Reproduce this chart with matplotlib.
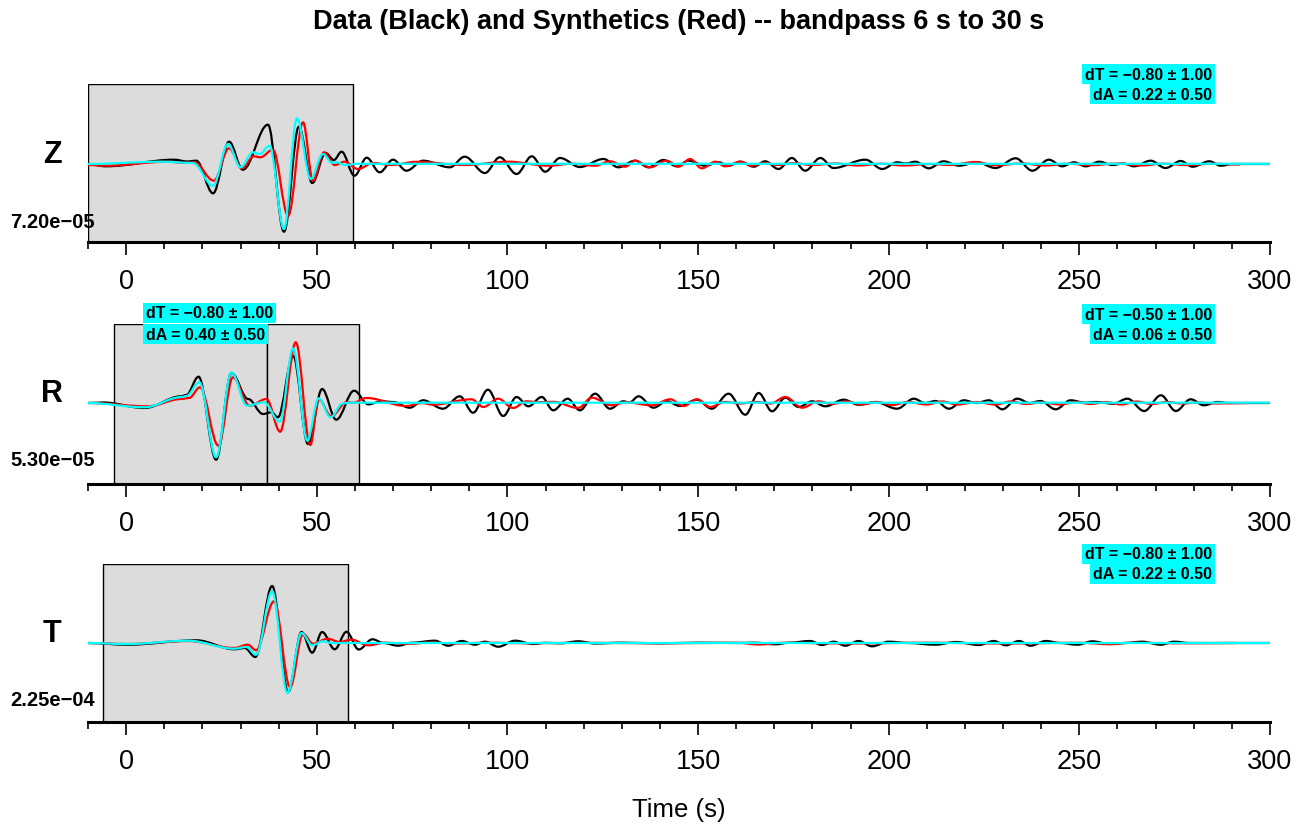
import matplotlib
matplotlib.use("Agg")
import matplotlib.pyplot as plt
from matplotlib.path import Path
from matplotlib.patches import PathPatch, Rectangle
from matplotlib.ticker import MultipleLocator

plt.rcParams['font.family'] = ['Liberation Sans', 'DejaVu Sans']

# ---------------- data: extrema (time s, relative amplitude) ----------------
z_black_t = [-10, -5.3, 12.6, 16, 18.4, 22.8, 27.0, 30.6, 37.2, 41.4, 45.3, 48.8, 52.3, 54.5, 56.5, 59.9,
             63.1, 66.5, 70.0, 73.5, 77.9, 84.9, 88.8, 94.1, 98.0, 102.4, 106.4, 109.9, 113.8, 119.0, 125.2,
             129.1, 133.5, 137.0, 140.9, 144.4, 147.5, 151.9, 155.4, 158.0, 161.1, 164.6, 167.6, 171.1,
             174.6, 178.1, 182.1, 185.5, 193.9, 198.3, 202.2, 204.5, 207.0, 210.5, 214.4, 218.4, 223.2,
             228.0, 233.3, 237.7, 242.0, 245.5, 248.6, 251.7, 255.2, 258.7, 261.5, 264.4, 268.7, 272.6,
             276.6, 279.7, 284.1, 287.1, 290.2, 300]
z_black_a = [0, -2.3, 4.3, 2.5, 3.3, -29.3, 22.3, -5.7, 39.3, -67.7, 37.3, -19, 11, 4, 12.3, -11.7,
             6.3, -8.3, 4.3, -6.7, 3.3, -3.3, 7.3, -9, 6.7, -10, 7.7, -7.7, 6, -3, 5,
             -3.3, 3.3, -3.3, 4, -2.3, 3.3, -1.7, 1.7, -1.7, 2.3, -2.7, 2.7, -5,
             6, -6.7, 6, -4, 4.3, -5, 1.7, 0.5, 2.3, -4.3, 2.7, -1.7, 1.7,
             -4, 5.7, -6.7, 4.3, -2.3, 1.7, -2.3, 2.3, -1, 0.5, -2.3, 3.3, -4,
             3, -2.7, 2.7, -1.7, 0, 0]

z_red_t = [-10, -5.3, 10.9, 15, 17.9, 23.0, 27.0, 30.4, 33.5, 35.2, 38.5, 42.5, 46.4, 49.0, 51.9, 54.7,
           57.3, 60.8, 64.8, 69.6, 76, 88.8, 100.2, 110.7, 117, 123.0, 126.9, 130.9, 133.5, 137.4, 141.8,
           144.9, 147.9, 151.0, 154.5, 157.1, 161.1, 164.1, 167.5, 171, 175, 180, 186, 192, 198, 204,
           211, 216, 222.7, 228, 235, 241, 247, 253, 260, 266, 272, 278, 285, 292]
z_red_a = [-1, -1.7, 2.3, 1.2, 1.7, -16.7, 15.7, -4.3, 7.7, 6.7, 14.3, -51.7, 41.7, -16.7, 11.7, -1,
           2.3, -5, 1, -1, 2.2, -1, 2.3, -1.7, 0.3, -1.7, 2.7, -2.7, 3.3, -3.3, 3.3,
           -2.7, 5, -4.3, 2.3, -2.3, 2.3, -1.7, 1, -1, 0.8, -1, 0.5, -1.5, 0.3, -1.5,
           0, -1, 2.0, -1.2, 0.5, -1.5, 0.3, -1.2, 0.5, -1.5, 0.3, -1.0, 0.2, -0.5]

z_cyan_t = [-10, 9.2, 17.5, 22.8, 26.7, 30.0, 33.3, 35, 37.6, 41.4, 44.8, 48.4, 51.6, 54.0, 55.3, 57.3,
            61, 300]
z_cyan_a = [0, 2.3, 1, -21.7, 20, -3.3, 11.7, 10, 18.3, -65, 45.7, -15, 10, 1.2, 1.8, -1,
            0.2, 0.2]

r_black_t = [-10, -6, 4.8, 14.4, 15.8, 19.0, 23.6, 27.6, 32.0, 35.9, 38.1, 39.8, 43.8, 47.7, 51.4, 55.1,
             59.8, 63.5, 67, 70, 74.4, 77.9, 83.1, 87.5, 91.0, 94.9, 98.9, 102.4, 105.5, 109.0, 112.0,
             115.8, 119.0, 123.0, 126.9, 130.4, 132, 134.4, 138.3, 141.8, 145.3, 149.7, 153.6, 158.0,
             162.4, 165.9, 169.4, 172.9, 176.4, 179.9, 183.4, 188.2, 192.1, 196.5, 202.2, 206.6, 209.5,
             212.3, 215.8, 219.7, 223, 226.3, 229.8, 233.7, 237, 239.8, 243.8, 247.7, 251.5, 254.6,
             258.9, 262.6, 267.0, 271.4, 275.3, 279.2, 282.7, 286.2, 289, 300]
r_black_a = [0, 0.5, -5, 6.7, 8, 26.3, -56.7, 30, 4, -11, -9.3, -14.3, 47.3, -41, 14, -16.7,
             12.3, -1.3, 1.7, 1, -4.7, 2.7, -5.7, 6.7, -9.7, 13.3, -13, 6, -3.3, 6, -7.3,
             4.3, -7.3, 9.3, -5.7, 1.7, 0.5, 6.7, -4.7, 1.7, -3, 3.3, -5.7, 9.3,
             -11.7, 10, -8.3, 5.3, -4, 1.7, -3.3, 3.3, -1.7, 1, -5.7, 4.3, 0,
             2, -5.7, 2.7, 0, 2.7, -6.3, 4.3, 0, 2, -6.3, 2.7, 0.3, 1,
             -0.7, 4.3, -8, 7.7, -8, 3.7, -2.3, 1, 0, 0]

r_red_t = [-10, 5.7, 14.4, 16.5, 19.4, 24.2, 28.0, 32.4, 36.8, 40.4, 44.5, 48.3, 50.5, 53.8, 57.8,
           59.5, 63.0, 73.5, 77.5, 80.5, 90.6, 93.7, 97.6, 101.5, 105.0, 108, 112, 118.6, 122.1, 127.4,
           131, 137.9, 142.7, 146.2, 149.7, 153.2, 157, 161, 165, 169, 172.9, 177.3, 181.6, 185, 189,
           193, 197, 201, 205, 210, 214, 218, 223, 228, 232, 236, 240, 245, 249, 253, 257, 261, 265,
           269, 273, 277, 281, 286, 294.6]
r_red_a = [0, -3.3, 4, 5, 15.7, -42.7, 25.7, -2.7, 4, -28.7, 60.7, -42, 4, -13.3, 0.8,
           0.2, 5, -3, 0, -1.7, 3.7, -4, 4.3, -5, 1.7, 0.8, 1.2, -5, 5.3, -2.3,
           0.8, -2.3, 3.7, -3, 3.7, -4, 1, -0.5, 1, -0.5, 6, -4.7, 1.7, -1, 1.5,
           -1.5, 1, -2, 1, -1.5, 1.5, -1.5, 1, -1.5, 1.5, -1, 0.5, -1.5, 1, -1, 1, -1.5, 1.5,
           -1, 1, -0.5, 0.5, -0.5, 0]

r_cyan_t = [-10, 4.8, 14.6, 15.8, 19.2, 23.6, 27.6, 31.7, 36.1, 40.3, 43.8, 47.5, 50.5, 53.6, 56.8,
            58.5, 300]
r_cyan_a = [0, -4.3, 6, 7, 20.7, -54.3, 30.7, -2.7, 0.7, -18.7, 54.7, -37.7, 4.7, -14.3, -0.5,
            0.3, 0.3]

t_black_t = [-10, 0.4, 18.4, 28.4, 31.1, 33.9, 38.3, 42.5, 46.0, 48.8, 51.4, 54.7, 57.8, 61.0, 64.6,
             67.5, 71.3, 75, 81.0, 84.5, 88.0, 91.5, 94.1, 97.6, 102.0, 106.8, 110, 114, 118.6, 123,
             130, 140, 150, 160, 165, 170.2, 174, 179.4, 182.5, 185.6, 188.6, 192.1, 195.6, 200.0,
             205, 212.3, 217.6, 223.7, 227.6, 230.7, 234.2, 237.2, 241.2, 245, 249.5, 253.4, 257.8,
             262, 266.5, 271.4, 274.8, 279, 300]
t_black_a = [0, -1.7, 2.7, -6.3, -5, -14, 57, -49, 11, -9.7, 11, -6.3, 11.2, -6.5, 3.7,
             0, -2.7, 0.3, 2.3, -2.7, 2, -1.7, 1.3, -3.7, 2.3, -1, 0.2, -0.3, 1.7, -0.5,
             0.3, -0.3, 0.3, 0, 0.3, -1.3, 0.3, 2, -2, 1.3, -2.7, 2, -3.3, 1.3,
             0, -1.7, 1, -2, 2, -2.3, 2, -2.7, 2, 0, -1.7, 1.7, -1,
             0, 1.3, -1.7, 1.3, 0, 0]

t_red_t = [-10, 0.4, 16.2, 28.4, 31.9, 34.1, 38.8, 43.0, 46.4, 49.0, 52.9, 56, 59.1, 63.5, 68, 74,
           80, 86, 95, 105, 120, 140, 160, 166, 172, 190, 210, 230, 250, 258, 264, 275, 291]
t_red_a = [0, -1, 2, -5, -1.7, -7.3, 41.7, -44, 9.3, -0.7, 4.3, 1, 3.3, -2.3, 0.3, -0.8,
           0.5, -0.5, 0.3, -0.3, 0.2, -0.3, 0.2, -1.5, 0.2, -0.5, 0.3, -0.5, 0.2, -1.2, 0.3, -0.3, 0]

t_cyan_t = [-10, 0.4, 16.2, 28.4, 31.5, 34.1, 38.3, 42.3, 46.0, 48.8, 51.6, 54, 300]
t_cyan_a = [0, -1, 2.3, -5.7, -4, -11.7, 51.7, -50, 10, -2.3, 1.7, 0, 0]

panel_names = ["Z", "R", "T"]
scale_labels = ["7.20e\u221205", "5.30e\u221205", "2.25e\u221204"]
windows = [[(-10, 59.6)], [(-3.3, 36.9), (36.9, 61.0)], [(-6.1, 58.2)]]
right_notes = [("dT = \u22120.80 \u00b1 1.00", "dA = 0.22 \u00b1 0.50"),
               ("dT = \u22120.50 \u00b1 1.00", "dA = 0.06 \u00b1 0.50"),
               ("dT = \u22120.80 \u00b1 1.00", "dA = 0.22 \u00b1 0.50")]
left_note_r = ("dT = \u22120.80 \u00b1 1.00", "dA = 0.40 \u00b1 0.50")
xticks = [0, 50, 100, 150, 200, 250, 300]

traces = [
    [(z_black_t, z_black_a), (z_red_t, z_red_a), (z_cyan_t, z_cyan_a)],
    [(r_black_t, r_black_a), (r_red_t, r_red_a), (r_cyan_t, r_cyan_a)],
    [(t_black_t, t_black_a), (t_red_t, t_red_a), (t_cyan_t, t_cyan_a)],
]
colors = ["black", "#ff0000", "#00ffff"]


def wave_path(t, a, k=0.36):
    verts = [(t[0], a[0])]
    codes = [Path.MOVETO]
    for i in range(1, len(t)):
        dt = t[i] - t[i - 1]
        verts += [(t[i - 1] + k * dt, a[i - 1]), (t[i] - k * dt, a[i]), (t[i], a[i])]
        codes += [Path.CURVE4] * 3
    return Path(verts, codes)


W, H = 1311, 829
fig = plt.figure(figsize=(W / 100, H / 100), dpi=100)

# panel pixel geometry: (top, bottom, baseline)
geo = [(85, 243, 165), (325, 485, 404), (565, 723, 644)]
x0, x1 = 88, 1270

for i in range(3):
    top, bot, base = geo[i]
    ax = fig.add_axes([x0 / W, 1 - bot / H, (x1 - x0) / W, (bot - top) / H])
    ax.set_xlim(-10, 300)
    ax.set_ylim(-(bot - base), base - top)
    ax.patch.set_alpha(0)
    for s in ["top", "left", "right"]:
        ax.spines[s].set_visible(False)
    ax.spines["bottom"].set_linewidth(2.2)
    ax.set_yticks([])
    ax.set_xticks(xticks)
    ax.xaxis.set_minor_locator(MultipleLocator(10))
    ax.tick_params(axis="x", which="major", direction="out", length=9, width=1.2,
                   labelsize=19.5, pad=9.5)
    ax.tick_params(axis="x", which="minor", direction="out", length=5, width=1.2)
    yl = ax.get_ylim()
    for (a0, a1) in windows[i]:
        ax.add_patch(Rectangle((a0, yl[0]), a1 - a0, yl[1] - yl[0], facecolor="#dcdcdc",
                               edgecolor="black", lw=1.0, zorder=0))
    for j, (tt, aa) in enumerate(traces[i]):
        ax.add_patch(PathPatch(wave_path(tt, aa), facecolor="none", edgecolor=colors[j],
                               lw=1.6, zorder=2 + j, capstyle="round", joinstyle="round"))

    fig.text(52 / W, 1 - (base - 10) / H, panel_names[i], ha="center", va="center",
             fontsize=22, fontweight="bold")
    fig.text(95 / W, 1 - (base + 57) / H, scale_labels[i], ha="right", va="center",
             fontsize=14.5, fontweight="bold")
    l1, l2 = right_notes[i]
    fig.text(1212 / W, 1 - (top - 10) / H, l1, ha="right", va="center", fontsize=11.5,
             fontweight="bold", bbox=dict(facecolor="#00ffff", edgecolor="none", pad=2))
    fig.text(1212 / W, 1 - (top + 10) / H, l2, ha="right", va="center", fontsize=11.5,
             fontweight="bold", bbox=dict(facecolor="#00ffff", edgecolor="none", pad=2))
    if i == 1:
        fig.text(146 / W, 1 - (top - 11) / H, left_note_r[0], ha="left", va="center",
                 fontsize=11.5, fontweight="bold",
                 bbox=dict(facecolor="#00ffff", edgecolor="none", pad=2))
        fig.text(146 / W, 1 - (top + 10) / H, left_note_r[1], ha="left", va="center",
                 fontsize=11.5, fontweight="bold",
                 bbox=dict(facecolor="#00ffff", edgecolor="none", pad=2))

fig.text(679 / W, 1 - 22 / H, "Data (Black) and Synthetics (Red) -- bandpass 6 s to 30 s",
         ha="center", va="center", fontsize=19.5, fontweight="bold")
fig.text(679 / W, 1 - 810 / H, "Time (s)", ha="center", va="center", fontsize=18.5)

fig.savefig("out.png", dpi=100)
